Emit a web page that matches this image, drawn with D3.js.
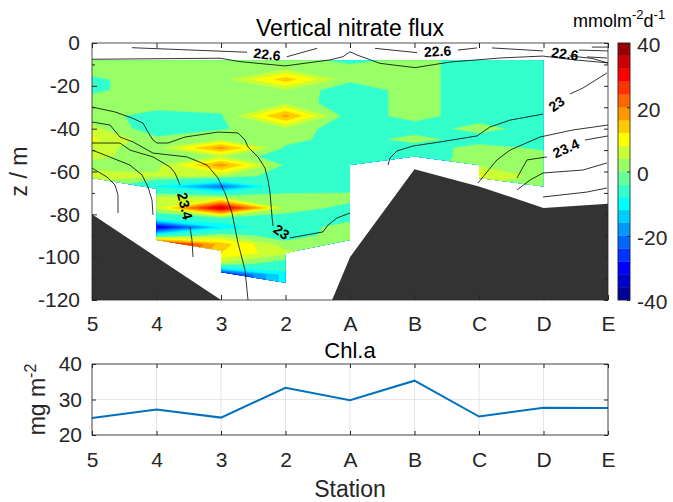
<!DOCTYPE html>
<html>
<head>
<meta charset="utf-8">
<script src="https://cdn.jsdelivr.net/npm/d3@7"></script>
<style>
body { margin: 0; background: #fff; }
text { font-family: "Liberation Sans", Arial, sans-serif; fill: #262626; }
</style>
</head>
<body>
<svg id="fig" width="673" height="502"></svg>
<script>
var stations = ['5', '4', '3', '2', 'A', 'B', 'C', 'D', 'E'];

// flux section: depth rows (m) and values for stations 5 4 3 2 A B C D
var fluxDepth = [-8, -12, -17, -22, -28, -34, -40, -45, -49, -53, -57, -62, -67, -72, -77, -82, -86, -90, -94, -98, -103, -108, -113];
var fluxRows = [
    [2, 2.5, 2, 3, -2, 2, -3, -3],
    [2, 2.5, 2, 3, 2, 2, -3, -3],
    [-1, 2.5, 2, 14, 1, 2, -3, -3],
    [-1, 2.5, 2, 3.5, -3, 2, -3, -3],
    [2, 2.5, 2, 3, -3, 2, -3, -3],
    [2, -2, -0.5, 17, -3, 2, -3, -3],
    [5, -3, -0.5, 3, -3, -3, 2, -3],
    [9, 1, 3, 2, -3, 2, -3, -3],
    [5, 2.5, 18, -1, -3, -3, 2, -1],
    [4.5, 3, 4, -3, -3, -3, 2, 2],
    [3, 2.5, 18, -1, -3, -3, 3, 2],
    [5, 4.5, 4, -3, -3, -3, 9, 2],
    [3, -9, -22, -4, -3, -3, 4, 2],
    [2, 4, 3, 2, 2, -3, 2, 2],
    [2, 5, 34, 3, -2, -3, 2, 2],
    [2, -6, -4, -3, -2, -3, 2, 2],
    [2, -34, -12, -4, 3, -3, 2, 2],
    [2, -6, 3, -3, 3, -3, 2, 2],
    [2, 36, 14, 2, 3, -3, 2, 2],
    [2, 30, 12, 5, 3, -3, 2, 2],
    [2, 2, 3, -3, 3, -3, 2, 2],
    [2, 2, -30, -10, 3, -3, 2, 2],
    [2, 2, -30, -10, 3, -3, 2, 2]
];
var fluxLevels = [-40, -36, -32, -28, -24, -20, -16, -12, -8, 0, 4, 8, 12, 16, 20, 24, 28, 32, 36];

// outline of the sampled part of the section (station index, depth)
var fluxEdgeS = [0, 7, 7, 6, 6, 5, 4, 4, 3, 3, 2, 2, 1, 1, 0];
var fluxEdgeZ = [-8, -8, -67, -63, -57, -53, -57, -92, -98, -112, -107, -97, -92, -68, -63];

var bottomDepth = [-80, -100, -120, -172, -100, -59, -67, -77, -75];

// density contours (station index, depth); a gap between pieces holds the label
var isoLines = [
    { level: '22.6', segs: [[[0.62, -2.2], [2.403, -4.3]], [[3.023, -6.4], [3.488, -2.5]]] },
    { level: '22.6', segs: [[[4.388, -2.5], [5.039, -4.5]], [[5.674, -3.3], [5.969, -2.3]]] },
    { level: '22.6', segs: [[[6.202, -2.3], [6.992, -3.7]], [[7.674, -6.5], [7.984, -7.0]]] },
    { level: '22.8', segs: [[[0, -7.6], [1.984, -7.1], [2.295, -8.7], [2.992, -10.7], [3.69, -7.9], [3.891, -6.4], [4.0, -4.1], [4.109, -5.6], [4.465, -9.5], [5.008, -11.5], [5.55, -8.9], [6.326, -7.0], [6.992, -6.1], [7.488, -7.9], [8.0, -9.3]]] },
    { level: '22.7', segs: [[[7.75, -1.9], [8.0, -1.9]]] },
    { level: '22.7', segs: [[[7.55, -3.3], [8.0, -3.7]]] },
    { level: '22.8', segs: [[[7.4, -6.0], [7.75, -7.2], [8.0, -9.3]]] },
    { level: '23', segs: [[[0, -29.9], [0.357, -32.2], [0.62, -35.0], [0.791, -37.4], [0.868, -41.6], [0.946, -45.3], [1.008, -46.7], [1.178, -46.7], [1.442, -43.9], [1.953, -41.6], [2.264, -42.0], [2.372, -45.3], [2.419, -48.6], [2.574, -53.2], [2.682, -58.4], [2.729, -64.0], [2.76, -70.0], [2.791, -81.2], [2.806, -85.4]],
        [[3.07, -91.0], [3.581, -88.2], [3.659, -85.0], [3.798, -81.7], [4.0, -79.4]]] },
    { level: '23.2', segs: [[[0, -36.9], [0.279, -38.3], [0.434, -43.9], [0.636, -46.2], [0.946, -51.4], [1.473, -53.2], [1.783, -57.0], [1.953, -63.0], [2.062, -70.0], [2.171, -79.4], [2.264, -93.4], [2.372, -106.0], [2.419, -120]]] },
    { level: '23.4', segs: [[[0, -46.7], [0.434, -46.7], [0.589, -50.0], [0.946, -53.2], [1.209, -57.9], [1.287, -60.7], [1.364, -66.3]],
        [[1.519, -85.9], [1.55, -92.0], [1.566, -99.9]]] },
    { level: '23.6', segs: [[[0, -50.0], [0.124, -51.4], [0.388, -54.6], [0.589, -57.0], [0.775, -61.6], [0.868, -67.2], [0.93, -73.3], [0.946, -80.3]]] },
    { level: '23.8', segs: [[[0, -58.4], [0.233, -62.6], [0.357, -66.3], [0.403, -71.0], [0.403, -79.4]]] },
    { level: '23', segs: [[[7.984, -14.0], [7.612, -21.0], [7.411, -23.8]],
        [[6.992, -33.2], [6.481, -36.0], [6.171, -39.2], [5.969, -43.4], [5.395, -46.2], [4.977, -48.1], [4.729, -50.4], [4.62, -53.7], [4.589, -57.0]]] },
    { level: '23.2', segs: [[[5.984, -65.4], [6.124, -60.2], [6.279, -54.6], [6.481, -50.0], [6.946, -43.9], [7.457, -40.6], [8.0, -38.3]]] },
    { level: '23.4', segs: [[[6.589, -63.0], [6.744, -54.6], [7.054, -53.2]], [[7.643, -45.3], [8.0, -43.4]]] },
    { level: '23.6', segs: [[[6.589, -68.6], [6.791, -64.0], [6.992, -60.7], [7.612, -59.3], [7.984, -56.0]]] },
    { level: '23.8', segs: [[[6.992, -71.9], [7.674, -69.6], [7.984, -67.7]]] }
];

var chla = [24.8, 27.2, 24.9, 33.3, 29.8, 35.3, 25.2, 27.7, 27.6];

var cbTicks = [-40, -20, 0, 20, 40];
var zTicks = [0, -20, -40, -60, -80, -100, -120];
var chlTicks = [20, 30, 40];

// MATLAB jet(20)
var jet20 = ['#000099', '#0000cc', '#0000ff', '#0033ff', '#0066ff', '#0099ff', '#00ccff', '#00ffff', '#33ffcc', '#66ff99',
    '#99ff66', '#ccff33', '#ffff00', '#ffcc00', '#ff9900', '#ff6600', '#ff3300', '#ff0000', '#cc0000', '#990000'];
function bandColor(v) { return jet20[Math.max(0, Math.min(19, Math.floor((v + 40) / 4)))]; }

var axisColor = '#262626';
var fontFamily = '"Liberation Sans", Arial, sans-serif';
var svg = d3.select('#fig');

var x = d3.scaleLinear().domain([0, 8]).range([92, 608]);
var y = d3.scaleLinear().domain([0, -120]).range([43, 300]);
var yc = d3.scaleLinear().domain([20, 40]).range([435, 364]);

var defs = svg.append('defs');
defs.append('clipPath').attr('id', 'plotClip').append('rect')
    .attr('x', x(0)).attr('y', y(0)).attr('width', x(8) - x(0)).attr('height', y(-120) - y(0));
defs.append('clipPath').attr('id', 'fluxClip').append('path')
    .attr('d', d3.line()(fluxEdgeS.map(function(s, i) { return [x(s), y(fluxEdgeZ[i])]; })) + 'Z');

// filled flux contours
var nx = fluxRows[0].length, ny = fluxRows.length;
var values = [].concat.apply([], fluxRows);
var contours = d3.contours().size([nx, ny]).thresholds(fluxLevels)(values);
var rowZ = d3.scaleLinear().domain(d3.range(ny)).range(fluxDepth);
var proj = d3.geoTransform({
    point: function(px, py) { this.stream.point(x(px - 0.5), y(rowZ(py - 0.5))); }
});
var gridPath = d3.geoPath(proj);

var upper = svg.append('g').attr('clip-path', 'url(#plotClip)');
upper.append('g').attr('clip-path', 'url(#fluxClip)')
    .selectAll('path').data(contours).enter().append('path')
    .attr('d', gridPath)
    .attr('fill', function(d) { return bandColor(d.value); })
    .attr('stroke', function(d) { return bandColor(d.value); })
    .attr('stroke-width', 0.6);

// bathymetry
upper.append('path')
    .datum(bottomDepth)
    .attr('d', d3.area().x(function(d, i) { return x(i); }).y0(y(-200)).y1(function(d) { return y(d); }))
    .attr('fill', '#333333');

// density contours with inline labels
var line = d3.line().x(function(d) { return x(d[0]); }).y(function(d) { return y(d[1]); });
isoLines.forEach(function(c) {
    c.segs.forEach(function(seg, i) {
        upper.append('path').attr('d', line(seg))
            .attr('fill', 'none').attr('stroke', '#000').attr('stroke-width', 0.8);
        if (i < c.segs.length - 1) {
            var a = seg[seg.length - 1], b = c.segs[i + 1][0];
            var ax = x(a[0]), ay = y(a[1]), bx = x(b[0]), by = y(b[1]);
            var ang = Math.atan2(by - ay, bx - ax) * 180 / Math.PI;
            if (ang > 90) ang -= 180;
            if (ang < -90) ang += 180;
            svg.append('text')
                .attr('transform', 'translate(' + ((ax + bx) / 2) + ',' + ((ay + by) / 2) + ') rotate(' + ang + ')')
                .attr('text-anchor', 'middle').attr('dy', '0.35em')
                .style('font-size', '14px').style('font-weight', 'bold').style('fill', '#000')
                .text(c.level);
        }
    });
});

function plain(d) { return String(d); }
function styleAxis(g) {
    g.select('.domain').remove();
    g.selectAll('line').attr('stroke', axisColor);
    g.selectAll('text').style('font-size', '21px').style('fill', axisColor).style('font-family', fontFamily);
}

// upper panel axes
svg.append('g').attr('transform', 'translate(0,' + y(-120) + ')')
    .call(d3.axisBottom(x).tickValues(d3.range(9)).tickFormat(function(d) { return stations[d]; })
        .tickSizeInner(-5).tickSizeOuter(0).tickPadding(16))
    .call(styleAxis);
svg.append('g').attr('transform', 'translate(0,' + y(0) + ')')
    .call(d3.axisTop(x).tickValues(d3.range(9)).tickFormat('').tickSizeInner(-5).tickSizeOuter(0))
    .call(styleAxis);
svg.append('g').attr('transform', 'translate(' + x(0) + ',0)')
    .call(d3.axisLeft(y).tickValues(zTicks).tickFormat(plain).tickSizeInner(-5).tickSizeOuter(0).tickPadding(12))
    .call(styleAxis);
svg.append('g').attr('transform', 'translate(' + x(0) + ',0)')
    .call(d3.axisLeft(y).tickValues(d3.range(-10, -120, -20)).tickFormat('').tickSizeInner(-3).tickSizeOuter(0))
    .call(styleAxis);
svg.append('g').attr('transform', 'translate(' + x(8) + ',0)')
    .call(d3.axisRight(y).tickValues(d3.range(0, -121, -10)).tickFormat('').tickSizeInner(-4).tickSizeOuter(0))
    .call(styleAxis);
svg.append('rect').attr('x', x(0)).attr('y', y(0)).attr('width', x(8) - x(0)).attr('height', y(-120) - y(0))
    .attr('fill', 'none').attr('stroke', axisColor).attr('stroke-width', 0.8);

svg.append('text').attr('x', 350).attr('y', 36).attr('text-anchor', 'middle')
    .style('font-size', '23px').style('fill', '#000').text('Vertical nitrate flux');
svg.append('text').attr('transform', 'translate(27,' + y(-60) + ') rotate(-90)')
    .attr('text-anchor', 'middle').style('font-size', '23px').text('z / m');

// colorbar
var cb = d3.scaleLinear().domain([-40, 40]).range([300, 43]);
svg.append('g').selectAll('rect').data(d3.range(20)).enter().append('rect')
    .attr('x', 618).attr('width', 12)
    .attr('y', function(i) { return cb(-40 + (i + 1) * 4); })
    .attr('height', function(i) { return cb(-40 + i * 4) - cb(-40 + (i + 1) * 4); })
    .attr('fill', function(i) { return jet20[i]; })
    .attr('stroke', function(i) { return jet20[i]; }).attr('stroke-width', 0.3);
svg.append('rect').attr('x', 618).attr('y', 43).attr('width', 12).attr('height', 257)
    .attr('fill', 'none').attr('stroke', axisColor).attr('stroke-width', 0.8);
svg.append('g').attr('transform', 'translate(630,0)')
    .call(d3.axisRight(cb).tickValues(cbTicks).tickFormat(plain).tickSizeInner(-3).tickSizeOuter(0).tickPadding(7))
    .call(styleAxis)
    .selectAll('text').attr('dy', '0.42em');
var cbl = svg.append('text').attr('x', 573).attr('y', 27).style('font-size', '18px').style('fill', '#000');
cbl.append('tspan').text('mmolm');
cbl.append('tspan').attr('dy', -8).style('font-size', '13px').text('-2');
cbl.append('tspan').attr('dy', 8).text('d');
cbl.append('tspan').attr('dy', -8).style('font-size', '13px').text('-1');

// lower panel: chlorophyll
var bot = svg.append('g');
bot.append('g').selectAll('line.gx').data(d3.range(9)).enter().append('line')
    .attr('x1', function(d) { return x(d); }).attr('x2', function(d) { return x(d); })
    .attr('y1', yc(20)).attr('y2', yc(40)).attr('stroke', '#dfdfdf').attr('stroke-width', 0.8);
bot.append('g').selectAll('line.gy').data(chlTicks).enter().append('line')
    .attr('x1', x(0)).attr('x2', x(8))
    .attr('y1', function(d) { return yc(d); }).attr('y2', function(d) { return yc(d); })
    .attr('stroke', '#dfdfdf').attr('stroke-width', 0.8);
bot.append('path').datum(chla)
    .attr('d', d3.line().x(function(d, i) { return x(i); }).y(function(d) { return yc(d); }))
    .attr('fill', 'none').attr('stroke', '#0072bd').attr('stroke-width', 2);
bot.append('g').attr('transform', 'translate(0,' + yc(20) + ')')
    .call(d3.axisBottom(x).tickValues(d3.range(9)).tickFormat(function(d) { return stations[d]; })
        .tickSizeInner(-4).tickSizeOuter(0).tickPadding(17))
    .call(styleAxis);
bot.append('g').attr('transform', 'translate(0,' + yc(40) + ')')
    .call(d3.axisTop(x).tickValues(d3.range(9)).tickFormat('').tickSizeInner(-4).tickSizeOuter(0))
    .call(styleAxis);
bot.append('g').attr('transform', 'translate(' + x(0) + ',0)')
    .call(d3.axisLeft(yc).tickValues(chlTicks).tickFormat(plain).tickSizeInner(-4).tickSizeOuter(0).tickPadding(10))
    .call(styleAxis);
bot.append('g').attr('transform', 'translate(' + x(8) + ',0)')
    .call(d3.axisRight(yc).tickValues(chlTicks).tickFormat('').tickSizeInner(-4).tickSizeOuter(0))
    .call(styleAxis);
bot.append('rect').attr('x', x(0)).attr('y', yc(40)).attr('width', x(8) - x(0)).attr('height', yc(20) - yc(40))
    .attr('fill', 'none').attr('stroke', axisColor).attr('stroke-width', 0.8);

svg.append('text').attr('x', 350).attr('y', 358).attr('text-anchor', 'middle')
    .style('font-size', '22px').style('fill', '#000').text('Chl.a');
svg.append('text').attr('x', 350).attr('y', 497).attr('text-anchor', 'middle')
    .style('font-size', '23px').text('Station');
var ml = svg.append('text').attr('transform', 'translate(45,' + yc(30) + ') rotate(-90)')
    .attr('text-anchor', 'middle').style('font-size', '23px');
ml.append('tspan').text('mg m');
ml.append('tspan').attr('dy', -9).style('font-size', '16px').text('-2');
</script>
</body>
</html>
